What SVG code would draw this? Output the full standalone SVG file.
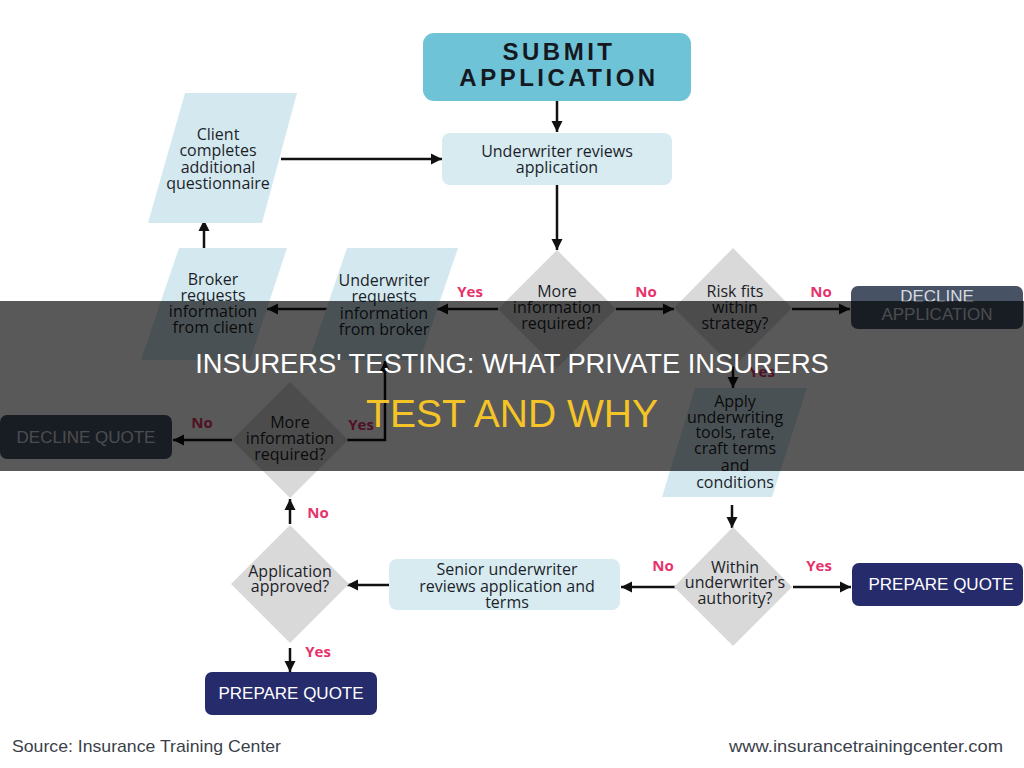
<svg xmlns="http://www.w3.org/2000/svg" width="1024" height="768" viewBox="0 0 1024 768">
<defs>
<marker id="ah" markerUnits="userSpaceOnUse" markerWidth="12" markerHeight="12" viewBox="0 0 12 12" refX="11" refY="6" orient="auto">
<path d="M0,0.5 L11,6 L0,11.5 Z" fill="#111"/>
</marker>
<style>
.t{font-family:"Open Sans","Noto Sans",sans-serif;font-size:16px;fill:#1c1f2a;text-anchor:middle}
.lbl{font-family:"Open Sans","Noto Sans",sans-serif;font-size:15px;font-weight:bold;fill:#e6336b;text-anchor:middle}
.cap{font-family:"Liberation Sans",Arial,sans-serif;font-size:17px;text-anchor:middle}
.para{fill:#d4e9ef}
.box{fill:#d7ebf1}
.dia{fill:#d9d9d9}
.dark{fill:#475264}
.navy{fill:#262b6c}
.c{stroke:#111;stroke-width:2.5;fill:none;marker-end:url(#ah)}
</style>
</defs>
<rect width="1024" height="768" fill="#ffffff"/>

<g id="connectors">
<line class="c" x1="557" y1="101" x2="557" y2="132"/>
<line class="c" x1="281" y1="159" x2="442" y2="159"/>
<line class="c" x1="557" y1="185" x2="557" y2="250"/>
<line class="c" x1="616" y1="309" x2="674" y2="309"/>
<line class="c" x1="792" y1="309" x2="850" y2="309"/>
<line class="c" x1="498" y1="309" x2="437" y2="309"/>
<line class="c" x1="327" y1="309" x2="267" y2="309"/>
<line class="c" x1="204" y1="248" x2="204" y2="220"/>
<line class="c" x1="733" y1="366" x2="733" y2="388"/>
<line class="c" x1="732" y1="505" x2="732" y2="528"/>
<line class="c" x1="793" y1="587" x2="851" y2="587"/>
<line class="c" x1="676" y1="587" x2="621" y2="587"/>
<line class="c" x1="389" y1="585" x2="347" y2="585"/>
<line class="c" x1="290" y1="524" x2="290" y2="499"/>
<line class="c" x1="290" y1="648" x2="290" y2="672"/>
<line class="c" x1="232" y1="440" x2="173" y2="440"/>
<polyline class="c" points="347,440 385,440 385,361"/>
</g>

<g id="labels">
<text class="lbl" x="470" y="297">Yes</text>
<text class="lbl" x="646" y="297">No</text>
<text class="lbl" x="821" y="297">No</text>
<text class="lbl" x="762" y="377">Yes</text>
<text class="lbl" x="202" y="428">No</text>
<text class="lbl" x="361" y="430">Yes</text>
<text class="lbl" x="318" y="518">No</text>
<text class="lbl" x="318" y="657">Yes</text>
<text class="lbl" x="663" y="571">No</text>
<text class="lbl" x="819" y="571">Yes</text>
</g>

<g id="submit">
<rect x="423" y="33" width="268" height="68" rx="11" fill="#6ec3d6"/>
<text x="559" y="60" font-family="Liberation Sans,Arial,sans-serif" font-size="24" font-weight="bold" letter-spacing="3.5" fill="#16181f" text-anchor="middle">SUBMIT</text>
<text x="559" y="86" font-family="Liberation Sans,Arial,sans-serif" font-size="24" font-weight="bold" letter-spacing="3.5" fill="#16181f" text-anchor="middle">APPLICATION</text>
</g>

<g id="review">
<rect class="box" x="442" y="133" width="230" height="52" rx="8"/>
<text class="t" x="557" y="157">Underwriter reviews</text>
<text class="t" x="557" y="173">application</text>
</g>

<g id="client">
<polygon class="para" points="185,93 297,93 262,223 148,223"/>
<text class="t" x="218" y="140">Client</text>
<text class="t" x="218" y="156">completes</text>
<text class="t" x="218" y="173">additional</text>
<text class="t" x="218" y="189">questionnaire</text>
</g>

<g id="broker">
<polygon class="para" points="179,248 287,248 250,360 141,360"/>
<text class="t" x="213" y="285">Broker</text>
<text class="t" x="213" y="301">requests</text>
<text class="t" x="213" y="317">information</text>
<text class="t" x="213" y="333">from client</text>
</g>

<g id="uwrequests">
<polygon class="para" points="347,248 458,248 420,360 309,360"/>
<text class="t" x="384" y="286">Underwriter</text>
<text class="t" x="384" y="302">requests</text>
<text class="t" x="384" y="319">information</text>
<text class="t" x="384" y="335">from broker</text>
</g>

<g id="moreinfo1">
<polygon class="dia" points="557,250 616,309 557,368 498,309"/>
<text class="t" x="557" y="297">More</text>
<text class="t" x="557" y="313">information</text>
<text class="t" x="557" y="329">required?</text>
</g>

<g id="risk">
<polygon class="dia" points="733,248 792,308 733,367 674,308"/>
<text class="t" x="735" y="297">Risk fits</text>
<text class="t" x="735" y="313">within</text>
<text class="t" x="735" y="329">strategy?</text>
</g>

<g id="declineapp">
<rect class="dark" x="851" y="286" width="172" height="43" rx="7"/>
<text class="cap" x="937" y="302" fill="#d6dae0">DECLINE</text>
<text class="cap" x="937" y="320" fill="#d6dae0">APPLICATION</text>
</g>

<g id="apply">
<polygon class="para" points="695,388 807,388 772,497 662,497"/>
<text class="t" x="735" y="407">Apply</text>
<text class="t" x="735" y="423">underwriting</text>
<text class="t" x="735" y="438">tools, rate,</text>
<text class="t" x="735" y="454">craft terms</text>
<text class="t" x="735" y="471">and</text>
<text class="t" x="735" y="488">conditions</text>
</g>

<g id="moreinfo2">
<polygon class="dia" points="290,382 348,440 290,498 232,440"/>
<text class="t" x="290" y="428">More</text>
<text class="t" x="290" y="444">information</text>
<text class="t" x="290" y="460">required?</text>
</g>

<g id="declinequote">
<rect class="dark" x="0" y="415" width="172" height="44" rx="7"/>
<text class="cap" x="86" y="443" fill="#d6dae0">DECLINE QUOTE</text>
</g>

<g id="approved">
<polygon class="dia" points="290,525 349,584 290,643 231,584"/>
<text class="t" x="290" y="577">Application</text>
<text class="t" x="290" y="592">approved?</text>
</g>

<g id="senior">
<rect class="box" x="389" y="559" width="231" height="51" rx="8"/>
<text class="t" x="507" y="575">Senior underwriter</text>
<text class="t" x="507" y="592">reviews application and</text>
<text class="t" x="507" y="608">terms</text>
</g>

<g id="authority">
<polygon class="dia" points="733,527 792,587 733,646 674,587"/>
<text class="t" x="735" y="573">Within</text>
<text class="t" x="735" y="588">underwriter's</text>
<text class="t" x="735" y="604">authority?</text>
</g>

<g id="prepare2">
<rect class="navy" x="852" y="563" width="171" height="43" rx="7"/>
<text class="cap" x="941" y="590" fill="#ffffff">PREPARE QUOTE</text>
</g>

<g id="prepare1">
<rect class="navy" x="205" y="672" width="172" height="43" rx="7"/>
<text class="cap" x="291" y="699" fill="#ffffff">PREPARE QUOTE</text>
</g>

<g id="footer">
<text x="12" y="752" font-family="Liberation Sans,Arial,sans-serif" font-size="17" fill="#3b3f4a" textLength="269" lengthAdjust="spacingAndGlyphs">Source: Insurance Training Center</text>
<text x="729" y="752" font-family="Liberation Sans,Arial,sans-serif" font-size="17" fill="#3b3f4a" textLength="274" lengthAdjust="spacingAndGlyphs">www.insurancetrainingcenter.com</text>
</g>

<g id="banner">
<rect x="0" y="301" width="1024" height="170" fill="#000" fill-opacity="0.65"/>
<text x="512" y="373" font-family="Liberation Sans,Arial,sans-serif" font-size="27.3" fill="#ffffff" text-anchor="middle">INSURERS' TESTING: WHAT PRIVATE INSURERS</text>
<text x="512" y="427" font-family="Liberation Sans,Arial,sans-serif" font-size="39" fill="#f5c427" text-anchor="middle">TEST AND WHY</text>
</g>
</svg>
